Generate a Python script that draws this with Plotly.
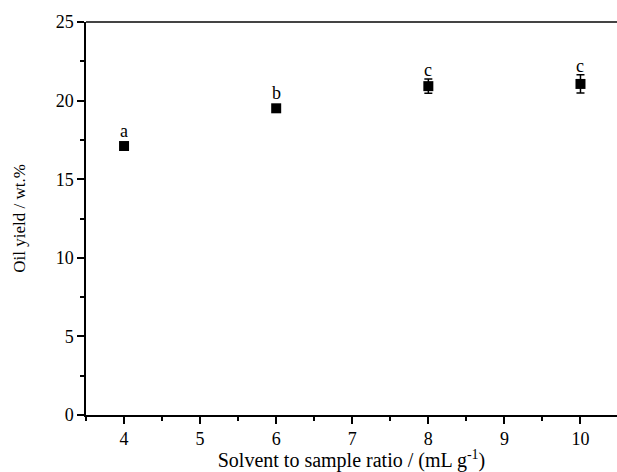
import plotly.graph_objects as go

ratio = [4, 6, 8, 10]
oil_yield = [17.11, 19.51, 20.92, 21.06]
yield_err = [0.15, 0.15, 0.45, 0.58]
group_labels = ["a", "b", "c", "c"]

FONT = "Liberation Serif, Times New Roman, serif"

fig = go.Figure()
fig.add_trace(go.Scatter(
    x=ratio, y=oil_yield, mode="markers",
    marker=dict(symbol="square", size=10, color="black"),
    error_y=dict(type="data", array=yield_err, color="black", thickness=1.5, width=4),
    showlegend=False, hoverinfo="skip",
))

for xv, yv, ev, lab in zip(ratio, oil_yield, yield_err, group_labels):
    fig.add_annotation(x=xv, y=yv + ev, text=lab, showarrow=False,
                       yanchor="bottom", yshift=1 if ev < 0.3 else -3,
                       font=dict(family=FONT, size=18, color="black"))

# top frame line
fig.add_shape(type="line", xref="paper", yref="paper", x0=0, x1=1, y0=1, y1=1,
              line=dict(color="#444444", width=2))

fig.update_layout(
    width=617, height=472,
    margin=dict(l=86, r=0, t=22, b=57, autoexpand=False),
    plot_bgcolor="white", paper_bgcolor="white",
    font=dict(family=FONT, size=17, color="black"),
    xaxis=dict(
        range=[3.5, 10.48], tickvals=[4, 5, 6, 7, 8, 9, 10],
        showline=True, linecolor="black", linewidth=1.5,
        ticks="outside", ticklen=7, tickwidth=1.5, tickcolor="black",
        minor=dict(dtick=0.5, tick0=3.5, ticks="outside", ticklen=4, tickwidth=1.5, tickcolor="black"),
        showgrid=False, zeroline=False, automargin=False,
        title=dict(text="Solvent to sample ratio / (mL g<sup>-1</sup>)", standoff=0,
                   font=dict(family=FONT, size=20)),
        tickfont=dict(family=FONT, size=18),
    ),
    yaxis=dict(
        range=[0, 25], tickvals=[0, 5, 10, 15, 20, 25],
        showline=True, linecolor="black", linewidth=1.5,
        ticks="outside", ticklen=7, tickwidth=1.5, tickcolor="black",
        minor=dict(dtick=2.5, tick0=0, ticks="outside", ticklen=4, tickwidth=1.5, tickcolor="black"),
        showgrid=False, zeroline=False, automargin=False,
        title=dict(text="Oil yield / wt.%", standoff=26, font=dict(family=FONT, size=17)),
        tickfont=dict(family=FONT, size=18),
    ),
)

fig.write_html("out.html", config={"displayModeBar": False})

# remove the default page margin so the figure sits at the window's corner
with open("out.html", "r", encoding="utf-8") as f:
    html = f.read()
html = html.replace("<head>", "<head><style>html,body{margin:0;padding:0;overflow:hidden;}</style>", 1)
with open("out.html", "w", encoding="utf-8") as f:
    f.write(html)
